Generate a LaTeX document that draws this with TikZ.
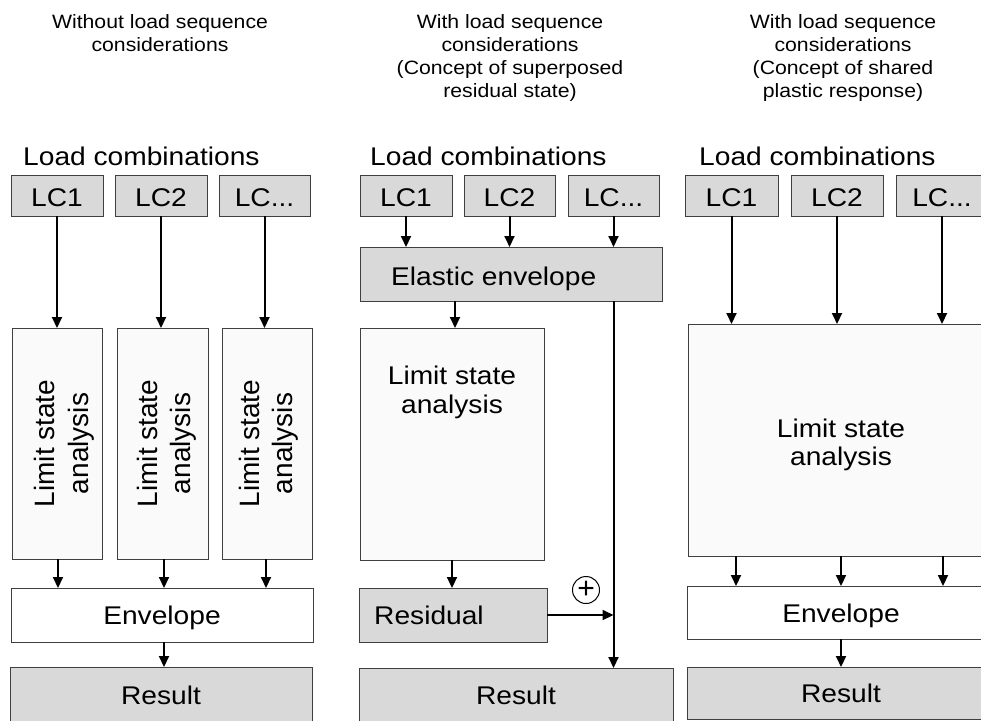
\documentclass[tikz,border=0pt]{standalone}
\usepackage{fontspec}
\setmainfont{Liberation Sans}[FakeStretch=1.1]
\newfontfamily\uprightsans{Liberation Sans}
\usetikzlibrary{arrows.meta,calc}

\definecolor{boxgray}{HTML}{D9D9D9}
\definecolor{paleface}{HTML}{FAFAFA}
\definecolor{edge}{HTML}{3F3F3F}

\tikzset{
  frame/.style={draw=edge, line width=1pt, inner sep=0pt, outer sep=0pt,
    font=\fontsize{25.6}{28.5}\selectfont, text height=19pt, text depth=0pt},
  grayframe/.style={frame, fill=boxgray},
  lcframe/.style={grayframe, minimum height=41pt, text height=22pt},
  paleframe/.style={frame, fill=paleface},
  whiteframe/.style={frame, fill=white},
  flow/.style={line width=2pt, -{Triangle[length=11pt,width=10pt]}},
  bigtext/.style={font=\fontsize{25.6}{28.5}\selectfont, inner sep=0pt},
  titletext/.style={font=\fontsize{19.3}{23}\selectfont, align=center, inner sep=0pt, anchor=north},
  sidetext/.style={font=\uprightsans\fontsize{28}{33.3}\selectfont, align=center, inner sep=0pt, rotate=90},
}

\begin{document}
\begin{tikzpicture}[x=1pt, y=-1pt]
\useasboundingbox (0,0) rectangle (981,720);
\fill[white] (0,0) rectangle (981,720);
\clip (0,0) rectangle (981,720);

% ---------- titles ----------
\node[titletext] (title1) at (160,14) {Without load sequence\\considerations};
\node[titletext] (title2) at (510,14) {With load sequence\\considerations\\(Concept of superposed\\residual state)};
\node[titletext] (title3) at (843,14) {With load sequence\\considerations\\(Concept of shared\\plastic response)};

\node[bigtext, anchor=base west] (lcomb1) at (23,165) {Load combinations};
\node[bigtext, anchor=base west] (lcomb2) at (370,165) {Load combinations};
\node[bigtext, anchor=base west] (lcomb3) at (699,165) {Load combinations};

% ---------- column 1: separate analyses ----------
\node[lcframe, minimum width=92pt] (lc11) at (57,195.5) {LC1};
\node[lcframe, minimum width=92pt] (lc12) at (161,195.5) {LC2};
\node[lcframe, minimum width=91pt] (lc13) at (264.5,195.5) {LC...};

\node[paleframe, minimum width=90pt, minimum height=231pt] (ls11) at (57,443.5) {};
\node[paleframe, minimum width=91pt, minimum height=231pt] (ls12) at (162.5,443.5) {};
\node[paleframe, minimum width=90pt, minimum height=231pt] (ls13) at (267,443.5) {};
\node[sidetext] (ls11text) at (64.4,443.5) {Limit state\\analysis};
\node[sidetext] (ls12text) at (166.8,443.5) {Limit state\\analysis};
\node[sidetext] (ls13text) at (268.5,443.5) {Limit state\\analysis};

\node[whiteframe, minimum width=302pt, minimum height=54pt] (env1) at (162,615) {Envelope};
\node[grayframe, minimum width=302pt, minimum height=55pt] (res1) at (161,694.5) {Result};

\draw[flow] (lc11.south) -- (lc11.south |- ls11.north);
\draw[flow] (lc12.south) -- (lc12.south |- ls12.north);
\draw[flow] (lc13.south) -- (lc13.south |- ls13.north);
\draw[flow] ($(ls11.south)+(1,0)$) -- ($(ls11.south |- env1.north)+(1,0)$);
\draw[flow] ($(ls12.south)+(1.5,0)$) -- ($(ls12.south |- env1.north)+(1.5,0)$);
\draw[flow] ($(ls13.south)+(-1,0)$) -- ($(ls13.south |- env1.north)+(-1,0)$);
\draw[flow] ($(env1.south)+(2,0)$) -- ($(env1.south |- res1.north)+(2,0)$);

% ---------- column 2: superposed residual state ----------
\node[lcframe, minimum width=92pt] (lc21) at (406,195.5) {LC1};
\node[lcframe, minimum width=91pt] (lc22) at (509.5,195.5) {LC2};
\node[lcframe, minimum width=91pt] (lc23) at (613.5,195.5) {LC...};

\node[grayframe, minimum width=302pt, minimum height=54pt] (ela) at (511,274) {};
\node[bigtext, anchor=base west] (elatext) at (391,285) {Elastic envelope};

\node[paleframe, minimum width=184pt, minimum height=232pt] (ls2) at (452,444) {};
\node[bigtext, align=center, anchor=north] (ls2text) at (452,366) {Limit state\\analysis};

\node[grayframe, minimum width=188pt, minimum height=54pt] (resid) at (453,615) {};
\node[bigtext, anchor=base west] (residtext) at (374,624) {Residual};

\node[grayframe, minimum width=314pt, minimum height=54pt] (res2) at (516,695) {Result};

\node[circle, draw, line width=1pt, minimum size=27pt, inner sep=0pt,
      font=\uprightsans\fontsize{30}{30}\selectfont] (plus) at (586,590) {+};

\coordinate (merge) at (lc23.south |- resid.east);

\draw[flow] (lc21.south) -- (lc21.south |- ela.north);
\draw[flow] (lc22.south) -- (lc22.south |- ela.north);
\draw[flow] (lc23.south) -- (lc23.south |- ela.north);
\draw[flow] ($(ls2.north |- ela.south)+(3,0)$) -- ($(ls2.north)+(3,0)$);
\draw[flow] (ls2.south) -- (ls2.south |- resid.north);
\draw[flow] (lc23.south |- ela.south) -- (lc23.south |- res2.north);
\draw[flow] (resid.east) -- (merge);

% ---------- column 3: shared plastic response ----------
\node[lcframe, minimum width=93pt] (lc31) at (731.5,195.5) {LC1};
\node[lcframe, minimum width=92pt] (lc32) at (837,195.5) {LC2};
\node[lcframe, minimum width=92pt] (lc33) at (942,195.5) {LC...};

\node[paleframe, minimum width=306pt, minimum height=232pt] (ls3) at (841,440) {};
\node[bigtext, align=center, anchor=north] (ls3text) at (841,418.3) {Limit state\\analysis};

\node[whiteframe, minimum width=308pt, minimum height=53pt] (env3) at (841,612.5) {Envelope};
\node[grayframe, minimum width=308pt, minimum height=52pt] (res3) at (841,693) {Result};

\draw[flow] (lc31.south) -- (lc31.south |- ls3.north);
\draw[flow] (lc32.south) -- (lc32.south |- ls3.north);
\draw[flow] (lc33.south) -- (lc33.south |- ls3.north);
\draw[flow] ($(ls3.south)+(-105,0)$) -- ($(ls3.south |- env3.north)+(-105,0)$);
\draw[flow] (ls3.south) -- (ls3.south |- env3.north);
\draw[flow] ($(ls3.south)+(102,0)$) -- ($(ls3.south |- env3.north)+(102,0)$);
\draw[flow] (env3.south) -- (env3.south |- res3.north);
\end{tikzpicture}
\end{document}
